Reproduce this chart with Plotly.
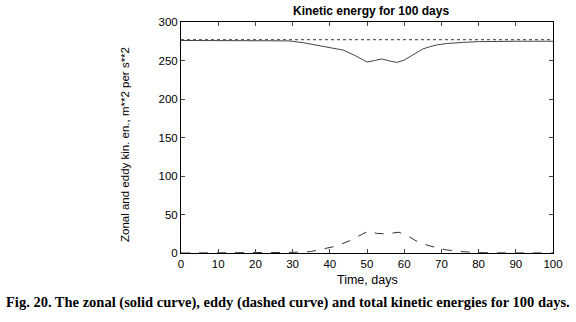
import plotly.graph_objects as go

title = "Kinetic energy for 100 days"
x_title = "Time, days"
y_title = "Zonal and eddy kin. en., m**2 per s**2"
caption = "Fig. 20. The zonal (solid curve), eddy (dashed curve) and total kinetic energies for 100 days."

zonal_days = [0, 10, 20, 25, 29, 33, 36.5, 40, 43.6, 47, 50, 52, 54, 56, 58, 60, 61.5, 63.4, 65, 67, 69, 71.4, 73.5, 76, 80, 85, 90, 95, 100]
zonal_vals = [276, 276, 276, 276, 275.5, 273, 270, 267, 263.5, 256, 248, 250, 252, 249.5, 247.5, 250.5, 255, 261, 265, 268, 270.5, 272, 273, 273.6, 274.5, 275, 275, 275, 275]

eddy_days = [0, 10, 20, 25, 30, 34.7, 38, 41.8, 45.4, 48, 50.4, 52.6, 55.3, 57, 58.6, 61, 64.2, 67.8, 71.4, 75.8, 80, 85, 90, 95, 100]
eddy_vals = [0, 0, 0, 0.3, 0.8, 1.7, 4.8, 9, 16, 23, 28.6, 25.5, 24.7, 26, 27, 22, 13, 8, 4, 1.7, 0.5, 0.2, 0, 0, 0]

total_days = [0, 100]
total_vals = [277, 277]

x_ticks = [0, 10, 20, 30, 40, 50, 60, 70, 80, 90, 100]
y_ticks = [0, 50, 100, 150, 200, 250, 300]

fig = go.Figure()
fig.add_trace(go.Scatter(x=total_days, y=total_vals, mode="lines",
                         line=dict(color="#333", width=1, dash="dot"), hoverinfo="skip"))
fig.add_trace(go.Scatter(x=zonal_days, y=zonal_vals, mode="lines",
                         line=dict(color="#444", width=1), hoverinfo="skip"))
fig.add_trace(go.Scatter(x=eddy_days, y=eddy_vals, mode="lines",
                         line=dict(color="#333", width=1, dash="dash"), hoverinfo="skip"))

font_sans = "Liberation Sans, Arial, sans-serif"
fig.update_layout(
    width=576, height=322,
    margin=dict(l=181, r=23, t=22, b=69),
    paper_bgcolor="white", plot_bgcolor="white",
    showlegend=False,
    font=dict(family=font_sans, size=11, color="black"),
    xaxis=dict(range=[0, 100], tickvals=x_ticks, ticks="inside", ticklen=4,
               showline=True, linecolor="black", linewidth=1, mirror="ticks",
               showgrid=False, zeroline=False, automargin=False,
               tickfont=dict(size=11.5)),
    yaxis=dict(range=[0, 300], tickvals=y_ticks, ticks="inside", ticklen=4,
               showline=True, linecolor="black", linewidth=1, mirror="ticks",
               showgrid=False, zeroline=False, automargin=False,
               tickfont=dict(size=11.5)),
    annotations=[
        dict(text="<b>" + title + "</b>", xref="paper", yref="paper",
             x=(371 - 181) / 372, y=(253 - 11) / 231, xanchor="center", yanchor="middle",
             showarrow=False, font=dict(family=font_sans, size=12, color="black")),
        dict(text=x_title, xref="paper", yref="paper",
             x=0.5, y=(253 - 280) / 231, xanchor="center", yanchor="middle",
             showarrow=False, font=dict(family=font_sans, size=12.5, color="black")),
        dict(text=y_title, xref="paper", yref="paper", textangle=-90,
             x=(125 - 181) / 372, y=(253 - 145) / 231, xanchor="center", yanchor="middle",
             showarrow=False, font=dict(family=font_sans, size=11.5, color="black")),
        dict(text="<b>" + caption + "</b>", xref="paper", yref="paper",
             x=(288 - 181) / 372, y=(253 - 302) / 231, xanchor="center", yanchor="middle",
             showarrow=False, font=dict(family="Liberation Serif, serif", size=14.5, color="black")),
    ],
)

fig.write_html("out.html", config={"displayModeBar": False},
               post_script="document.body.style.margin='0';")
